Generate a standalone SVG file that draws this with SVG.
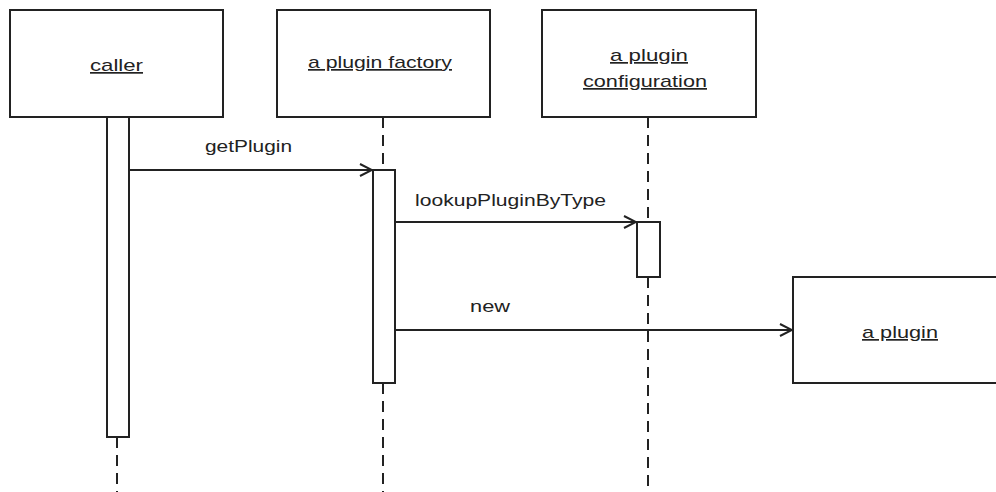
<svg xmlns="http://www.w3.org/2000/svg" width="996" height="492" viewBox="0 0 996 492">
<style>
.box{fill:#fff;stroke:#222;stroke-width:2}
.act{fill:#fff;stroke:#222;stroke-width:2}
.life{stroke:#222;stroke-width:2;stroke-dasharray:11,7;fill:none}
.msg{stroke:#222;stroke-width:2;fill:none;marker-end:url(#open)}
text{font-family:"Liberation Sans",Arial,sans-serif;font-size:17px;fill:#222}
.u{text-decoration:underline}
</style>
<defs>
<marker id="open" viewBox="0 0 14 14" refX="13" refY="7" markerWidth="14" markerHeight="14" markerUnits="userSpaceOnUse" orient="auto">
<path d="M1,1 L13,7 L1,13" fill="none" stroke="#222" stroke-width="2"/>
</marker>
</defs>
<rect width="996" height="492" fill="#fff"/>
<g id="lifelines">
<line class="life" x1="117" y1="437" x2="117" y2="492"/>
<line class="life" x1="383" y1="117" x2="383" y2="170"/>
<line class="life" x1="383" y1="383" x2="383" y2="492"/>
<line class="life" x1="648" y1="117" x2="648" y2="222"/>
<line class="life" x1="648" y1="277" x2="648" y2="492"/>
</g>
<g id="caller">
<rect class="box" x="10" y="10" width="213" height="107"/>
<text class="u" x="116.5" y="71" text-anchor="middle" textLength="53" lengthAdjust="spacingAndGlyphs">caller</text>
<rect class="act" x="107" y="117" width="22" height="320"/>
</g>
<g id="factory">
<rect class="box" x="277" y="10" width="213" height="107"/>
<text class="u" x="380" y="68" text-anchor="middle" textLength="144" lengthAdjust="spacingAndGlyphs">a plugin factory</text>
<rect class="act" x="373" y="170" width="22" height="213"/>
</g>
<g id="configuration">
<rect class="box" x="542" y="10" width="214" height="107"/>
<text class="u" x="649" y="61" text-anchor="middle" textLength="78" lengthAdjust="spacingAndGlyphs">a plugin</text>
<text class="u" x="645" y="87" text-anchor="middle" textLength="124" lengthAdjust="spacingAndGlyphs">configuration</text>
<rect class="act" x="637" y="222" width="23" height="55"/>
</g>
<g id="plugin">
<rect class="box" x="793" y="277" width="210" height="106"/>
<text class="u" x="900" y="338" text-anchor="middle" textLength="76" lengthAdjust="spacingAndGlyphs">a plugin</text>
</g>
<g id="connectors">
<line class="msg" x1="129" y1="170" x2="372" y2="170"/>
<text x="205" y="152" textLength="87" lengthAdjust="spacingAndGlyphs">getPlugin</text>
<line class="msg" x1="395" y1="222" x2="636" y2="222"/>
<text x="415" y="206" textLength="191" lengthAdjust="spacingAndGlyphs">lookupPluginByType</text>
<line class="msg" x1="395" y1="330" x2="792" y2="330"/>
<text x="470" y="312" textLength="40" lengthAdjust="spacingAndGlyphs">new</text>
</g>
</svg>
